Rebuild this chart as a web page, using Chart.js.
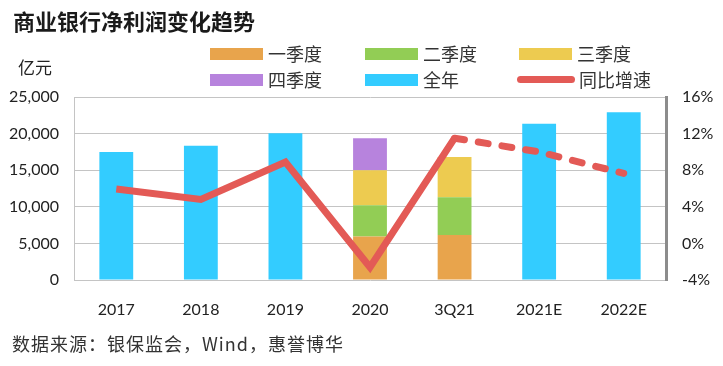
<!DOCTYPE html>
<html>
<head>
<meta charset="utf-8">
<script src="https://cdn.jsdelivr.net/npm/chart.js@4.4.0/dist/chart.umd.min.js"></script>
<style>
  body { margin: 0; background: #fff; }
  #wrap { position: relative; width: 723px; height: 366px; overflow: hidden; }
  #chart { position: absolute; left: 0; top: 0; }
  .txt { position: absolute; font-family: "Noto Sans CJK SC", sans-serif; color: #222; white-space: nowrap; line-height: 1; }
  .title { left: 13px; top: 9px; font-size: 22px; font-weight: bold; color: #1a1a1a; }
  .unit { left: 18px; top: 58px; font-size: 17px; }
  .source { left: 12px; top: 334px; font-size: 18px; letter-spacing: 1px; color: #333; }
  .sw { position: absolute; height: 12px; width: 53px; }
  .lg { position: absolute; font-family: "Noto Sans CJK SC", sans-serif; font-size: 18px; color: #333; line-height: 1; white-space: nowrap; }
</style>
</head>
<body>
<div id="wrap">
  <canvas id="chart" width="723" height="366"></canvas>
  <div class="txt title">商业银行净利润变化趋势</div>
  <div class="txt unit">亿元</div>
  <div class="txt source">数据来源：银保监会，Wind，惠誉博华</div>
  <div id="legend"></div>
</div>
<script>
// categories and values
const categories = ["2017", "2018", "2019", "2020", "3Q21", "2021E", "2022E"];
const q1 = [null, null, null, 5950, 6150, null, null];
const q2 = [null, null, null, 4250, 5150, null, null];
const q3 = [null, null, null, 4800, 5500, null, null];
const q4 = [null, null, null, 4350, null, null, null];
const fullYear = [17500, 18330, 20050, null, null, 21340, 22900];
const yoyGrowth = [5.95, 4.8, 8.9, -2.6, 11.5, 10.0, 7.65];
const leftTicks = [0, 5000, 10000, 15000, 20000, 25000];
const rightTicks = [-4, 0, 4, 8, 12, 16];

const colors = {
  q1: "#E8A44C",
  q2: "#92CD55",
  q3: "#EDCB50",
  q4: "#B783DD",
  full: "#33CCFF",
  line: "#E35A56"
};

// legend drawn as html so the positions match
const legendItems = [
  { label: "一季度", color: colors.q1, x: 210, y: 48 },
  { label: "二季度", color: colors.q2, x: 365, y: 48 },
  { label: "三季度", color: colors.q3, x: 519, y: 48 },
  { label: "四季度", color: colors.q4, x: 210, y: 74 },
  { label: "全年", color: colors.full, x: 365, y: 74 },
  { label: "同比增速", color: colors.line, x: 517, y: 74, line: true }
];
const legendEl = document.getElementById("legend");
legendItems.forEach(item => {
  const sw = document.createElement("div");
  sw.className = "sw";
  sw.style.left = item.x + "px";
  sw.style.background = item.color;
  if (item.line) {
    sw.style.width = "58px";
    sw.style.height = "7px";
    sw.style.top = (item.y + 2) + "px";
    sw.style.borderRadius = "4px";
  } else {
    sw.style.top = item.y + "px";
  }
  legendEl.appendChild(sw);
  const t = document.createElement("div");
  t.className = "lg";
  t.textContent = item.label;
  t.style.left = (item.x + (item.line ? 62 : 58)) + "px";
  t.style.top = (item.y - 4) + "px";
  legendEl.appendChild(t);
});

const tickFont = { family: "Lato, 'Noto Sans', sans-serif", size: 16 };

const barSet = (label, data, color) => ({
  type: "bar",
  label: label,
  data: data,
  backgroundColor: color,
  yAxisID: "y",
  stack: "s",
  order: 1,
  categoryPercentage: 1,
  barPercentage: 0.4
});

new Chart(document.getElementById("chart"), {
  data: {
    labels: categories,
    datasets: [
      {
        type: "line",
        label: "同比增速",
        data: yoyGrowth,
        yAxisID: "y1",
        borderColor: colors.line,
        borderWidth: 7,
        pointRadius: 0,
        tension: 0,
        fill: false,
        order: 0,
        borderJoinStyle: "miter",
        segment: {
          borderDash: ctx => ctx.p0DataIndex >= 4 ? [10, 14] : undefined,
          borderCapStyle: ctx => ctx.p0DataIndex >= 4 ? "round" : "butt"
        }
      },
      barSet("一季度", q1, colors.q1),
      barSet("二季度", q2, colors.q2),
      barSet("三季度", q3, colors.q3),
      barSet("四季度", q4, colors.q4),
      barSet("全年", fullYear, colors.full)
    ]
  },
  options: {
    responsive: false,
    animation: false,
    layout: { padding: { top: 97, left: 0, right: 0, bottom: 0 } },
    plugins: {
      legend: { display: false },
      tooltip: { enabled: false }
    },
    scales: {
      x: {
        stacked: true,
        grid: { display: false },
        border: { display: false },
        ticks: { color: "#222", font: tickFont, padding: 12 },
        afterFit: scale => { scale.height = 86; }
      },
      y: {
        position: "left",
        stacked: true,
        min: 0,
        max: 25000,
        afterBuildTicks: scale => { scale.ticks = leftTicks.map(v => ({ value: v })); },
        grid: { color: "#C4C4C4", lineWidth: 1, drawTicks: false },
        border: { display: true, color: "#C4C4C4", width: 1 },
        ticks: {
          color: "#222",
          font: tickFont,
          padding: 15,
          callback: v => v.toLocaleString("en-US")
        },
        afterFit: scale => { scale.width = 74; }
      },
      y1: {
        position: "right",
        min: -4,
        max: 16,
        afterBuildTicks: scale => { scale.ticks = rightTicks.map(v => ({ value: v })); },
        grid: { display: false, drawTicks: false },
        border: { display: true, color: "#8C8C8C", width: 3 },
        ticks: {
          color: "#222",
          font: tickFont,
          padding: 16,
          callback: v => v + "%"
        },
        afterFit: scale => { scale.width = 57; }
      }
    }
  }
});
</script>
</body>
</html>
